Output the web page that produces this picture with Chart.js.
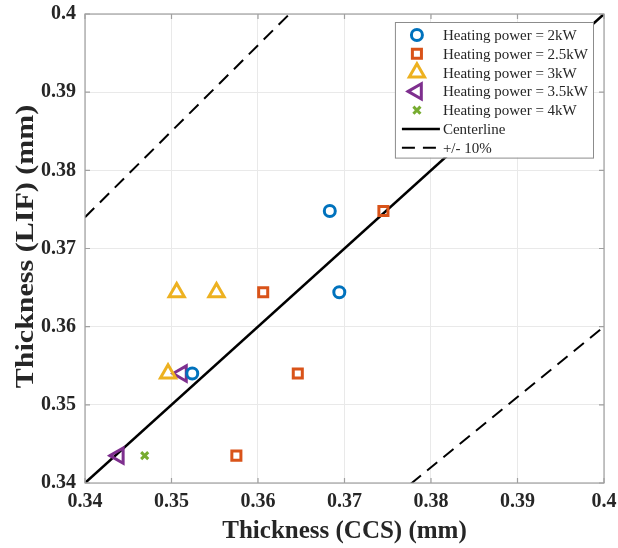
<!DOCTYPE html>
<html>
<head>
<meta charset="utf-8">
<script src="https://cdn.jsdelivr.net/npm/chart.js@4.4.1/dist/chart.umd.min.js"></script>
<style>
  html, body { margin: 0; padding: 0; background: #ffffff; }
  #wrap { width: 618px; height: 548px; }
</style>
</head>
<body>
<div id="wrap"><canvas id="chart" width="618" height="548"></canvas></div>
<script>
// Film thickness: CCS measurement (x) vs LIF measurement (y), in mm
const seriesLabels = [
  'Heating power = 2kW',
  'Heating power = 2.5kW',
  'Heating power = 3kW',
  'Heating power = 3.5kW',
  'Heating power = 4kW'
];
const ccs2kW  = [0.3683, 0.3694, 0.3524];
const lif2kW  = [0.3748, 0.3644, 0.3540];
const ccs25kW = [0.3745, 0.3606, 0.3646, 0.3575];
const lif25kW = [0.3748, 0.3644, 0.3540, 0.3435];
const ccs3kW  = [0.3506, 0.3552, 0.3496];
const lif3kW  = [0.3644, 0.3644, 0.3540];
const ccs35kW = [0.3512, 0.3439];
const lif35kW = [0.3540, 0.3435];
const ccs4kW  = [0.3469];
const lif4kW  = [0.3435];

const axisTicks = [0.34, 0.35, 0.36, 0.37, 0.38, 0.39, 0.4];
const xTitle = 'Thickness (CCS) (mm)';
const yTitle = 'Thickness (LIF) (mm)';
const centerLabel = 'Centerline';
const bandLabel = '+/- 10%';
const bandRatio = 0.10;

const axisMin = axisTicks[0];
const axisMax = axisTicks[axisTicks.length - 1];

const pts = (xs, ys) => xs.map((x, i) => ({ x: x, y: ys[i] }));
const lineThrough = (k) => [{ x: axisMin, y: axisMin * k }, { x: axisMax, y: axisMax * k }];

const C = {
  blue: '#0072BD', orange: '#D95319', yellow: '#EDB120',
  purple: '#7E2F8E', green: '#77AC30', text: '#262626'
};
const FONT = "'Liberation Serif', 'Times New Roman', serif";

function markerSet(label, data, color, style, radius, rotation) {
  return {
    type: 'scatter', label: label, data: data,
    pointStyle: style, pointRadius: radius, pointHoverRadius: radius,
    pointRotation: rotation || 0,
    pointBorderWidth: 3, pointHoverBorderWidth: 3,
    borderColor: color, backgroundColor: 'rgba(0,0,0,0)',
    pointBackgroundColor: 'rgba(0,0,0,0)', pointBorderColor: color,
    showLine: false
  };
}
function lineSet(label, data, dash, width, hideInLegend) {
  return {
    type: 'line', label: label, data: data,
    borderColor: '#000000', borderWidth: width, borderDash: dash,
    pointRadius: 0, pointHoverRadius: 0, fill: false, tension: 0,
    clip: 0, legendHidden: !!hideInLegend
  };
}

const datasets = [
  markerSet(seriesLabels[0], pts(ccs2kW, lif2kW), C.blue, 'circle', 5.5),
  markerSet(seriesLabels[1], pts(ccs25kW, lif25kW), C.orange, 'rect', 6.4),
  markerSet(seriesLabels[2], pts(ccs3kW, lif3kW), C.yellow, 'triangle', 8.8),
  markerSet(seriesLabels[3], pts(ccs35kW, lif35kW), C.purple, 'triangle', 8.8, -90),
  markerSet(seriesLabels[4], pts(ccs4kW, lif4kW), C.green, 'crossRot', 5),
  lineSet(centerLabel, lineThrough(1), [], 2.5),
  lineSet(bandLabel, lineThrough(1 + bandRatio), [13, 8], 2),
  lineSet(bandLabel, lineThrough(1 - bandRatio), [13, 8], 2, true)
];

// Axes box with inward tick marks
const framePlugin = {
  id: 'frame',
  afterDatasetsDraw(chart) {
    const { ctx, chartArea: a, scales } = chart;
    ctx.save();
    ctx.strokeStyle = '#a0a0a0';
    ctx.lineWidth = 1.2;
    ctx.setLineDash([]);
    ctx.strokeRect(a.left, a.top, a.right - a.left, a.bottom - a.top);
    ctx.beginPath();
    const t = 5;
    axisTicks.forEach(v => {
      const px = scales.x.getPixelForValue(v);
      const py = scales.y.getPixelForValue(v);
      ctx.moveTo(px, a.bottom); ctx.lineTo(px, a.bottom - t);
      ctx.moveTo(px, a.top); ctx.lineTo(px, a.top + t);
      ctx.moveTo(a.left, py); ctx.lineTo(a.left + t, py);
      ctx.moveTo(a.right, py); ctx.lineTo(a.right - t, py);
    });
    ctx.stroke();
    ctx.restore();
  }
};

// Rotated y-axis title, drawn a little elongated along its baseline
const yTitlePlugin = {
  id: 'yTitle',
  afterDraw(chart) {
    const { ctx, chartArea: a } = chart;
    ctx.save();
    ctx.translate(27, (a.top + a.bottom) / 2 - 2);
    ctx.rotate(-Math.PI / 2);
    ctx.scale(1.2, 1);
    ctx.font = 'bold 25px ' + FONT;
    ctx.fillStyle = C.text;
    ctx.textAlign = 'center';
    ctx.textBaseline = 'middle';
    ctx.fillText(yTitle, 0, 0);
    ctx.restore();
  }
};

// Boxed legend in the upper-right corner of the plot
function drawMarker(ctx, ds, x, y) {
  const opts = {
    pointStyle: ds.pointStyle, radius: ds.pointRadius,
    rotation: ds.pointRotation || 0, borderWidth: ds.pointBorderWidth
  };
  ctx.strokeStyle = ds.pointBorderColor;
  ctx.fillStyle = 'rgba(0,0,0,0)';
  ctx.lineWidth = ds.pointBorderWidth;
  Chart.helpers.drawPoint(ctx, opts, x, y);
}
const legendPlugin = {
  id: 'boxLegend',
  afterDraw(chart) {
    const { ctx, chartArea: a } = chart;
    const items = chart.data.datasets.filter(d => !d.legendHidden);
    ctx.save();
    ctx.font = '15px ' + FONT;
    const maxW = Math.max(...items.map(d => ctx.measureText(d.label).width));
    const rowH = 18.8;
    const w = 48 + maxW + 5;
    const h = rowH * items.length + 4;
    const right = a.right - 11;
    const left = right - w;
    const top = a.top + 8;
    ctx.fillStyle = '#ffffff';
    ctx.fillRect(left, top, w, h);
    ctx.strokeStyle = '#8c8c8c';
    ctx.lineWidth = 1;
    ctx.strokeRect(left + 0.5, top + 0.5, w, h);
    items.forEach((d, i) => {
      const cy = top + 13 + i * rowH;
      ctx.save();
      if (d.type === 'line') {
        ctx.strokeStyle = d.borderColor;
        ctx.lineWidth = d.borderWidth;
        ctx.setLineDash(d.borderDash || []);
        ctx.beginPath();
        ctx.moveTo(left + 7, cy);
        ctx.lineTo(left + 45, cy);
        ctx.stroke();
      } else {
        drawMarker(ctx, d, left + 22, cy);
      }
      ctx.restore();
      ctx.fillStyle = C.text;
      ctx.textBaseline = 'middle';
      ctx.textAlign = 'left';
      ctx.fillText(d.label, left + 48, cy + 1);
    });
    ctx.restore();
  }
};

const fmt = v => String(Number(Number(v).toFixed(2)));
const noOverflow = s => { s.paddingLeft = 0; s.paddingRight = 0; s.paddingTop = 0; s.paddingBottom = 0; };

new Chart(document.getElementById('chart'), {
  type: 'scatter',
  data: { datasets: datasets },
  options: {
    responsive: false,
    animation: false,
    devicePixelRatio: 1,
    events: [],
    layout: { padding: { left: 0, right: 14, top: 14, bottom: 0 } },
    plugins: { legend: { display: false }, tooltip: { enabled: false } },
    scales: {
      x: {
        type: 'linear', min: axisMin, max: axisMax,
        afterBuildTicks: s => { s.ticks = axisTicks.map(v => ({ value: v })); },
        afterFit: s => { s.height = 65; noOverflow(s); },
        grid: { color: '#e9e9e9', lineWidth: 1, drawTicks: false },
        border: { display: false },
        ticks: {
          callback: fmt, autoSkip: false, maxRotation: 0, padding: 7,
          color: C.text, font: { family: FONT, size: 20, weight: 'bold' }
        },
        title: {
          display: true, text: xTitle, color: C.text,
          font: { family: FONT, size: 25, weight: 'bold' },
          padding: { top: 0, bottom: 1 }
        }
      },
      y: {
        type: 'linear', min: axisMin, max: axisMax,
        afterBuildTicks: s => { s.ticks = axisTicks.map(v => ({ value: v })); },
        afterFit: s => { s.width = 85; noOverflow(s); },
        grid: { color: '#e9e9e9', lineWidth: 1, drawTicks: false },
        border: { display: false },
        ticks: {
          callback: fmt, autoSkip: false, padding: 9,
          color: C.text, font: { family: FONT, size: 20, weight: 'bold' }
        },
        title: { display: false }
      }
    }
  },
  plugins: [framePlugin, yTitlePlugin, legendPlugin]
});
</script>
</body>
</html>
